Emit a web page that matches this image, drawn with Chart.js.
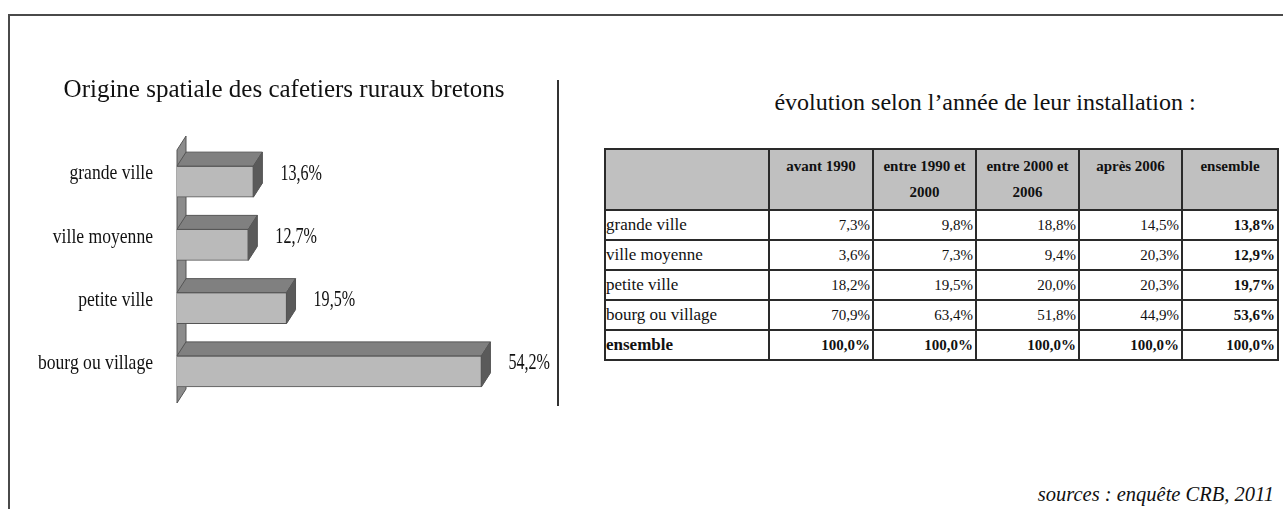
<!DOCTYPE html>
<html>
<head>
<meta charset="utf-8">
<script src="https://cdn.jsdelivr.net/npm/chart.js@4.4.1/dist/chart.umd.min.js"></script>
<style>
  body { margin: 0; background: #fff; width: 1283px; height: 509px; overflow: hidden; position: relative; font-family: "Liberation Serif", serif; color: #111; }
  .line { position: absolute; background: #4a4a4a; }
  #chartBox { position: absolute; left: 11px; top: 60px; width: 546px; height: 360px; }
  #rightTitle { position: absolute; left: 700px; width: 570px; top: 89px; text-align: center; font-size: 24px; }
  #tbl { position: absolute; left: 604px; top: 148px; border-collapse: collapse; table-layout: fixed; width: 673px; }
  #tbl td, #tbl th { border: 2px solid #2a2a2a; padding: 0 2px; overflow: hidden; white-space: nowrap; }
  #tbl th { background: #c0c0c0; font-size: 15px; font-weight: bold; vertical-align: top; line-height: 26px; padding-top: 3px; height: 56px; }
  #tbl td { font-size: 15px; text-align: right; height: 28px; vertical-align: middle; line-height: 24px; }
  #tbl td.lab { text-align: left; font-size: 17px; padding-left: 0; }
  #tbl .b { font-weight: bold; }
  #source { position: absolute; right: 9px; top: 483px; font-style: italic; font-size: 20.5px; }
</style>
</head>
<body>
<div class="line" style="left:8px;top:14px;width:1275px;height:2px;"></div>
<div class="line" style="left:8px;top:14px;width:2px;height:495px;"></div>
<div class="line" style="left:557px;top:80px;width:2px;height:326px;background:#333;"></div>

<div id="chartBox"><canvas id="originChart"></canvas></div>

<div id="rightTitle">évolution selon l’année de leur installation :</div>
<table id="tbl"></table>
<div id="source">sources : enquête CRB, 2011</div>

<script>
// bar chart (left)
const categories = ['grande ville', 'ville moyenne', 'petite ville', 'bourg ou village'];
const shares = [13.6, 12.7, 19.5, 54.2];

// table (right)
const periodHeaders = [['avant 1990'], ['entre 1990 et', '2000'], ['entre 2000 et', '2006'], ['après 2006'], ['ensemble']];
const rowLabels = ['grande ville', 'ville moyenne', 'petite ville', 'bourg ou village', 'ensemble'];
const avant1990 = [7.3, 3.6, 18.2, 70.9, 100.0];
const entre1990et2000 = [9.8, 7.3, 19.5, 63.4, 100.0];
const entre2000et2006 = [18.8, 9.4, 20.0, 51.8, 100.0];
const apres2006 = [14.5, 20.3, 20.3, 44.9, 100.0];
const ensemble = [13.8, 12.9, 19.7, 53.6, 100.0];

const fmt = v => v.toFixed(1).replace('.', ',') + '%';

// 3D look: depth offset of the bars
const DX = 9, DY = -14;

const threeD = {
  id: 'threeD',
  beforeDatasetsDraw(chart) {
    const ctx = chart.ctx;
    const a = chart.chartArea;
    const L = chart.scales.x.getPixelForValue(0);
    // side wall
    ctx.save();
    ctx.beginPath();
    ctx.moveTo(L, a.top);
    ctx.lineTo(L + DX, a.top + DY);
    ctx.lineTo(L + DX, a.bottom + DY);
    ctx.lineTo(L, a.bottom);
    ctx.closePath();
    ctx.fillStyle = '#8c8c8c';
    ctx.fill();
    ctx.strokeStyle = '#555';
    ctx.lineWidth = 1;
    ctx.stroke();
    ctx.restore();
  },
  afterDatasetsDraw(chart) {
    const ctx = chart.ctx;
    const meta = chart.getDatasetMeta(0);
    ctx.save();
    ctx.strokeStyle = '#555';
    ctx.lineWidth = 1;
    meta.data.forEach((bar, i) => {
      const t = bar.y - bar.height / 2, b = bar.y + bar.height / 2;
      // top face
      ctx.beginPath();
      ctx.moveTo(bar.base, t);
      ctx.lineTo(bar.base + DX, t + DY);
      ctx.lineTo(bar.x + DX, t + DY);
      ctx.lineTo(bar.x, t);
      ctx.closePath();
      ctx.fillStyle = '#808080';
      ctx.fill();
      ctx.stroke();
      // end face
      ctx.beginPath();
      ctx.moveTo(bar.x, t);
      ctx.lineTo(bar.x + DX, t + DY);
      ctx.lineTo(bar.x + DX, b + DY);
      ctx.lineTo(bar.x, b);
      ctx.closePath();
      ctx.fillStyle = '#5a5a5a';
      ctx.fill();
      ctx.stroke();

      // value label, narrow serif
      ctx.save();
      ctx.translate(bar.x + 27, bar.y - 8);
      ctx.scale(0.7, 1);
      ctx.font = '23px "Liberation Serif"';
      ctx.fillStyle = '#111';
      ctx.textAlign = 'left';
      ctx.textBaseline = 'middle';
      ctx.fillText(fmt(shares[i]), 0, 0);
      ctx.restore();
    });
    // category labels
    const ys = chart.scales.y;
    categories.forEach((c, i) => {
      ctx.save();
      ctx.translate(ys.right - 24, ys.getPixelForTick(i) - 8);
      ctx.scale(0.8, 1);
      ctx.font = '22px "Liberation Serif"';
      ctx.fillStyle = '#111';
      ctx.textAlign = 'right';
      ctx.textBaseline = 'middle';
      ctx.fillText(c, 0, 0);
      ctx.restore();
    });
    ctx.restore();
  }
};

new Chart(document.getElementById('originChart').getContext('2d'), {
  type: 'bar',
  data: {
    labels: categories,
    datasets: [{
      data: shares,
      backgroundColor: '#bababa',
      borderColor: '#555',
      borderWidth: 1,
      barThickness: 31
    }]
  },
  options: {
    indexAxis: 'y',
    responsive: true,
    maintainAspectRatio: false,
    animation: false,
    layout: { padding: { left: 43, right: 43, top: 0, bottom: 17 } },
    plugins: {
      legend: { display: false },
      tooltip: { enabled: false },
      title: {
        display: true,
        text: 'Origine spatiale des cafetiers ruraux bretons',
        color: '#111',
        font: { family: '"Liberation Serif", serif', size: 25, weight: 'normal' },
        padding: { top: 15, bottom: 45 }
      }
    },
    scales: {
      x: { display: false, min: 0, max: 60 },
      y: {
        grid: { display: false },
        border: { display: false },
        ticks: { display: false },
        afterFit: s => { s.width = 123; }
      }
    }
  },
  plugins: [threeD]
});

// build the table from the arrays
const cols = [avant1990, entre1990et2000, entre2000et2006, apres2006, ensemble];
const widths = [164, 104, 103, 103, 103, 96];
let html = '<colgroup>' + widths.map(w => `<col style="width:${w}px">`).join('') + '</colgroup>';
html += '<tr><th></th>' + periodHeaders.map(h => `<th>${h.join('<br>')}</th>`).join('') + '</tr>';
rowLabels.forEach((r, i) => {
  const last = i === rowLabels.length - 1;
  html += `<tr><td class="lab${last ? ' b' : ''}">${r}</td>`;
  cols.forEach((c, j) => {
    const bold = last || j === cols.length - 1;
    html += `<td class="${bold ? 'b' : ''}">${fmt(c[i])}</td>`;
  });
  html += '</tr>';
});
document.getElementById('tbl').innerHTML = html;
</script>
</body>
</html>
